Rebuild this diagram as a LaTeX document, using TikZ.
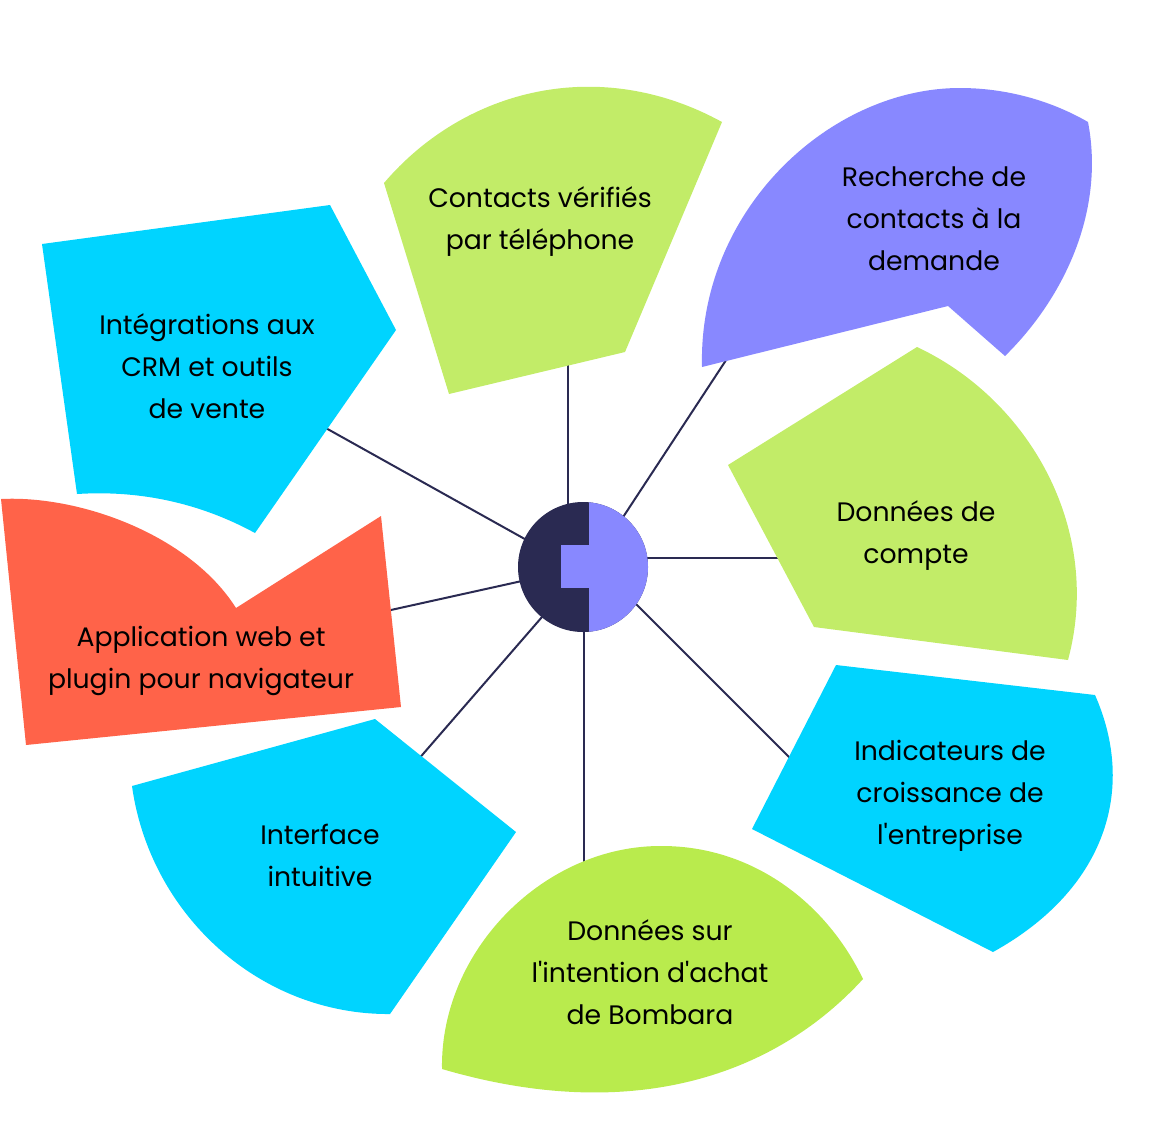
\documentclass[tikz,border=0pt]{standalone}
\usepackage{fontspec}
\newfontfamily\labelfont{Poppins}
\definecolor{lime}{HTML}{C2EC68}
\definecolor{limeb}{HTML}{B9EB4D}
\definecolor{sky}{HTML}{00D4FF}
\definecolor{violet2}{HTML}{8888FF}
\definecolor{tomato2}{HTML}{FF6349}
\definecolor{navy2}{HTML}{2A2A52}
\tikzset{
  label text/.style={font=\labelfont\fontsize{26.7}{42}\selectfont, align=center, text=black, inner sep=0pt},
  spoke/.style={draw=navy2, line width=2pt},
}
\begin{document}
\begin{tikzpicture}[x=1pt,y=-1pt]
\useasboundingbox (0,0) rectangle (1158,1120);
% connector ends
\coordinate (hub) at (583,567);
\coordinate (a1) at (568,340); \coordinate (b1) at (568,520);
\coordinate (a2) at (732,351); \coordinate (b2) at (610,537);
\coordinate (a3) at (800,558); \coordinate (b3) at (630,558);
\coordinate (a4) at (800,768); \coordinate (b4) at (620,588);
\coordinate (a5) at (584,880); \coordinate (b5) at (584,620);
\coordinate (a6) at (410,769); \coordinate (b6) at (555,602);
\coordinate (a7) at (380,612.4); \coordinate (b7) at (540,577);
\coordinate (a8) at (315,422); \coordinate (b8) at (540,547.5);
\foreach \i in {1,...,8} \draw[spoke] (a\i) -- (b\i);
% shapes
\fill[lime] (384,183) .. controls (465,88) and (600,55) .. (722,122) -- (625,352) -- (449,394) -- cycle;
\fill[violet2] (702,367) .. controls (698,210) and (830,88) .. (960,88) .. controls (1005,88) and (1050,100) .. (1088,122) .. controls (1105,210) and (1065,297) .. (1005,356) -- (948,306) -- cycle;
\fill[lime] (917,347) .. controls (1030,400) and (1103,530) .. (1068,660) -- (814,627) -- (728,465) -- cycle;
\fill[sky] (42,244) -- (330,205) -- (396,330) -- (255,533) .. controls (200,503) and (140,490) .. (77,494) -- cycle;
\fill[tomato2] (1,499) .. controls (80,495) and (190,535) .. (236,608) -- (381,516) -- (401,707) -- (26,745) -- cycle;
\fill[sky] (132,786) -- (375,719) -- (516,832) -- (390,1014) .. controls (260,1015) and (150,915) .. (132,786) -- cycle;
\fill[limeb] (442,1069) .. controls (440,950) and (545,845) .. (662,846) .. controls (750,846) and (825,900) .. (863,979) .. controls (780,1070) and (640,1127) .. (442,1069) -- cycle;
\fill[sky] (836,665) -- (1095,695) .. controls (1137,790) and (1105,890) .. (993,952) -- (752,829) -- cycle;
% hub
\node[circle, fill=navy2, minimum size=130pt, inner sep=0pt] (hubc) at (hub) {};
\begin{scope}
\clip (589,490) rectangle (660,645);
\fill[violet2] (hub) circle (65pt);
\end{scope}
\fill[violet2] (561,545) rectangle (590,588);
% labels
\node[label text] (t1) at (540,221.5) {Contacts vérifiés\\par téléphone};
\node[label text] (t2) at (934,219) {Recherche de\\contacts à la\\demande};
\node[label text] (t3) at (916,535.5) {Données de\\compte};
\node[label text] (t4) at (950,795.5) {Indicateurs de\\croissance de\\l'entreprise};
\node[label text] (t5) at (650,972) {Données sur\\l'intention d'achat\\de Bombara};
\node[label text] (t6) at (320,855) {Interface\\intuitive};
\node[label text] (t7) at (201,660.5) {Application web et\\plugin pour navigateur};
\node[label text] (t8) at (207,366) {Intégrations aux\\CRM et outils\\de vente};
\end{tikzpicture}
\end{document}
